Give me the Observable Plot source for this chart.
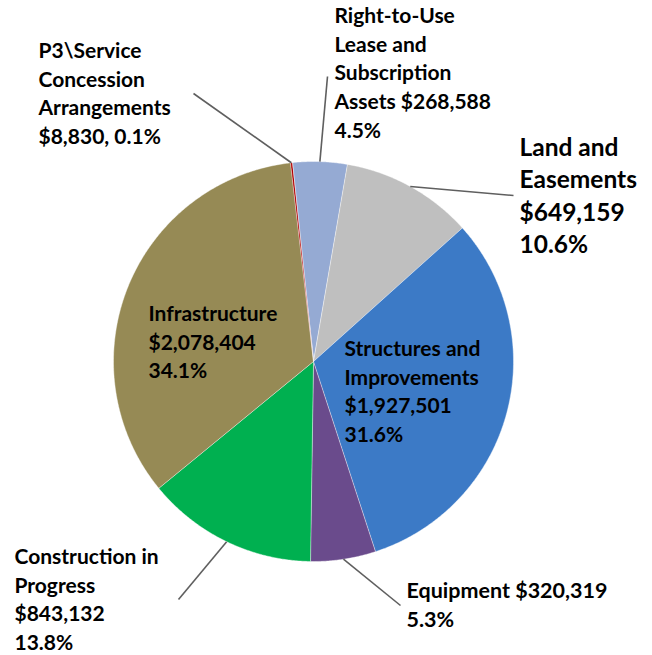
<!DOCTYPE html>
<html>
<head>
<meta charset="utf-8">
<script src="https://cdn.jsdelivr.net/npm/d3@7"></script>
<script src="https://cdn.jsdelivr.net/npm/@observablehq/plot@0.6"></script>
<style>
  html, body { margin: 0; padding: 0; background: #fff; }
  #chart svg { display: block; }
</style>
</head>
<body>
<div id="chart"></div>
<script>
// ---- data ----
const categories = [
  "Right-to-Use Lease and Subscription Assets",
  "Land and Easements",
  "Structures and Improvements",
  "Equipment",
  "Construction in Progress",
  "Infrastructure",
  "P3\\Service Concession Arrangements"
];
const values = [268588, 649159, 1927501, 320319, 843132, 2078404, 8830];
const percentLabels = ["4.5%", "10.6%", "31.6%", "5.3%", "13.8%", "34.1%", "0.1%"];
const colors = ["#95AAD3", "#BFBFBF", "#3C7AC6", "#6A4B8C", "#00B050", "#968A55", "#B00000"];
const labelTemplates = [
  "Right-to-Use\nLease and\nSubscription\nAssets {v}\n{p}",
  "Land and\nEasements\n{v}\n{p}",
  "Structures and\nImprovements\n{v}\n{p}",
  "Equipment {v}\n{p}",
  "Construction in\nProgress\n{v}\n{p}",
  "Infrastructure\n{v}\n{p}",
  "P3\\Service\nConcession\nArrangements\n{v}, {p}"
];

// ---- layout (radius units, pie centre at 0,0, radius 1) ----
const startAngleDeg = -6.1;
const labelPos = [      // top-left of label text
  [0.105, 1.792], [1.03, 1.145], [0.155, 0.127], [0.465, -1.083],
  [-1.495, -0.913], [-0.825, 0.302], [-1.375, 1.617]
];
const labelSize = [21, 24.5, 21, 21.5, 21, 21, 21];
const labelLineHeight = [1.36, 1.33, 1.36, 1.33, 1.36, 1.36, 1.36];
const leaderEnd = [     // null = no leader line
  [0.07, 1.425], [1.0, 0.83], null, [0.435, -1.22],
  [-0.675, -1.19], null, [-0.60, 1.34]
];

// ---- build pie geometry ----
const fmt = d3.format(",");
const pie = d3.pie().sort(null).value(d => d)
  .startAngle(startAngleDeg * Math.PI / 180)
  .endAngle(startAngleDeg * Math.PI / 180 + 2 * Math.PI);
const arcs = pie(values);

const slicePts = [];
arcs.forEach((a, i) => {
  const span = a.endAngle - a.startAngle;
  const n = Math.max(2, Math.ceil(span / (0.4 * Math.PI / 180)));
  slicePts.push({cat: categories[i], x: 0, y: 0});
  for (let k = 0; k <= n; k++) {
    const t = a.startAngle + span * k / n;
    slicePts.push({cat: categories[i], x: Math.sin(t), y: Math.cos(t)});
  }
});

const labels = categories.map((c, i) => ({
  cat: c,
  x: labelPos[i][0],
  y: labelPos[i][1],
  text: labelTemplates[i].replace("{v}", "$" + fmt(values[i])).replace("{p}", percentLabels[i])
}));

const leaders = [];
arcs.forEach((a, i) => {
  if (!leaderEnd[i]) return;
  const m = (a.startAngle + a.endAngle) / 2;
  leaders.push({x1: Math.sin(m), y1: Math.cos(m), x2: leaderEnd[i][0], y2: leaderEnd[i][1]});
});

const W = 652, H = 655, R = 200, CX = 313, CY = 361;

const chart = Plot.plot({
  width: W,
  height: H,
  margin: 0,
  x: {domain: [-CX / R, (W - CX) / R], axis: null},
  y: {domain: [-(H - CY) / R, CY / R], axis: null},
  color: {domain: categories, range: colors},
  style: {fontFamily: "Lato, 'Open Sans', sans-serif", background: "white"},
  marks: [
    Plot.line(slicePts, {x: "x", y: "y", z: "cat", fill: "cat", stroke: "white",
      strokeWidth: 0.6, strokeOpacity: 0.7, curve: "linear-closed"}),
    Plot.link(leaders, {x1: "x1", y1: "y1", x2: "x2", y2: "y2", stroke: "#5f5f5f", strokeWidth: 1.6}),
    ...labels.map((l, i) => Plot.text([l], {
      x: "x", y: "y", text: "text",
      textAnchor: "start", lineAnchor: "top",
      fontSize: labelSize[i], fontWeight: "bold", fill: "black",
      lineHeight: labelLineHeight[i]
    }))
  ]
});
document.getElementById("chart").appendChild(chart);
</script>
</body>
</html>
